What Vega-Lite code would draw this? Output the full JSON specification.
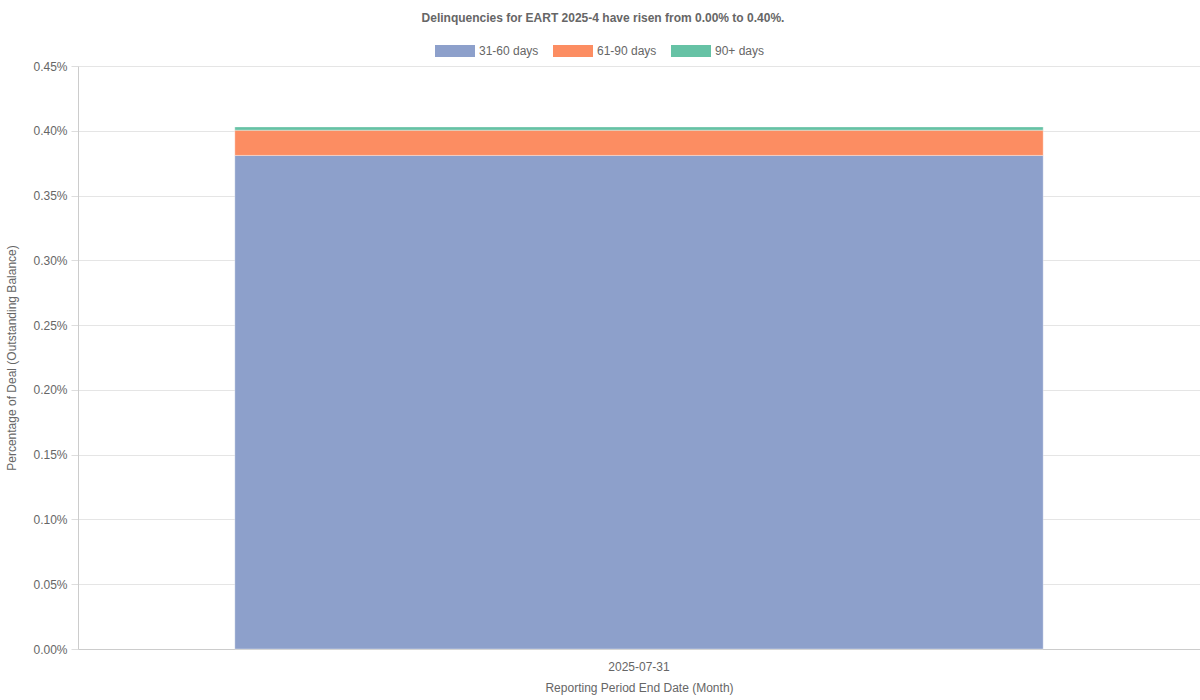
{
  "$schema": "https://vega.github.io/schema/vega-lite/v6.json",
  "width": 1200,
  "height": 700,
  "autosize": {"type": "fit", "contains": "padding"},
  "padding": {"left": 5, "right": 0, "top": 12, "bottom": 7},
  "title": {
    "text": "Delinquencies for EART 2025-4 have risen from 0.00% to 0.40%.",
    "fontSize": 12,
    "fontWeight": "bold",
    "color": "#666666",
    "font": "Liberation Sans",
    "frame": "bounds",
    "anchor": "middle",
    "offset": 35
  },
  "data": {
    "values": [
      {"date": "2025-07-31", "bucket": "31-60 days", "order": 1, "pct": 0.00381},
      {"date": "2025-07-31", "bucket": "61-90 days", "order": 2, "pct": 0.000195},
      {"date": "2025-07-31", "bucket": "90+ days", "order": 3, "pct": 0.000025}
    ]
  },
  "mark": {"type": "bar", "stroke": "#ffffff", "strokeOpacity": 0.35, "strokeWidth": 1},
  "encoding": {
    "x": {
      "field": "date",
      "type": "nominal",
      "title": "Reporting Period End Date (Month)",
      "scale": {"paddingInner": 0, "paddingOuter": 0.194},
      "axis": {
        "labelAngle": 0,
        "ticks": false,
        "labelPadding": 12,
        "titlePadding": 10
      }
    },
    "y": {
      "field": "pct",
      "type": "quantitative",
      "stack": "zero",
      "title": "Percentage of Deal (Outstanding Balance)",
      "scale": {"domain": [0, 0.0045]},
      "axis": {
        "format": ".2%",
        "values": [0, 0.0005, 0.001, 0.0015, 0.002, 0.0025, 0.003, 0.0035, 0.004, 0.0045],
        "tickSize": 7,
        "labelPadding": 4,
        "titlePadding": 14
      }
    },
    "color": {
      "field": "bucket",
      "type": "nominal",
      "scale": {
        "domain": ["31-60 days", "61-90 days", "90+ days"],
        "range": ["#8da0cb", "#fc8d62", "#66c2a5"]
      },
      "legend": {
        "orient": "none",
        "legendX": 357,
        "legendY": -35,
        "direction": "horizontal",
        "title": null,
        "symbolType": "M-1,-0.3L1,-0.3L1,0.3L-1,0.3Z",
        "symbolSize": 1600,
        "symbolStrokeWidth": 0,
        "symbolOpacity": 1,
        "labelFontSize": 12,
        "labelColor": "#666666",
        "labelFont": "Liberation Sans",
        "columnPadding": 14
      }
    },
    "order": {"field": "order", "type": "quantitative"}
  },
  "config": {
    "view": {"stroke": null},
    "axis": {
      "labelFont": "Liberation Sans",
      "titleFont": "Liberation Sans",
      "labelFontSize": 12,
      "titleFontSize": 12,
      "titleFontWeight": "normal",
      "labelColor": "#666666",
      "titleColor": "#666666",
      "domainColor": "#cccccc",
      "tickColor": "#dddddd",
      "gridColor": "#e5e5e5"
    },
    "axisX": {"grid": false},
    "axisY": {"grid": true}
  }
}
